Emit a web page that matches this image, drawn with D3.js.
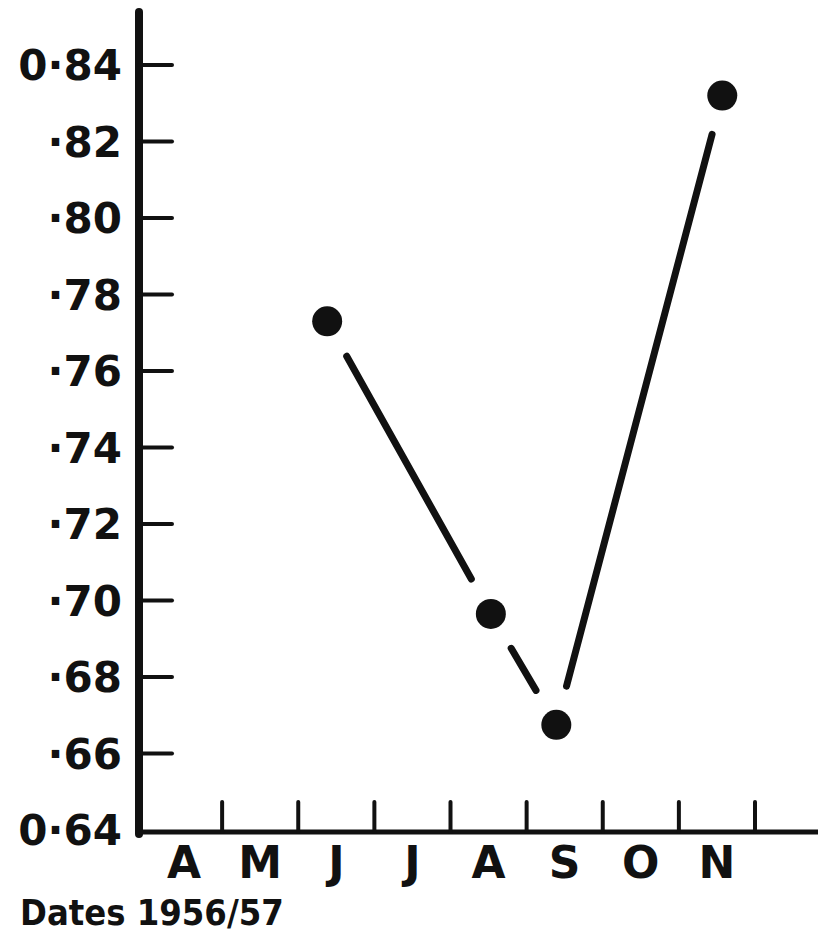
<!DOCTYPE html>
<html>
<head>
<meta charset="utf-8">
<script src="https://cdn.jsdelivr.net/npm/d3@7"></script>
<style>
  body { margin: 0; background: #fff; }
  svg { display: block; }
  text { font-family: "DejaVu Sans", sans-serif; font-weight: bold; fill: #111; }
  .title { font-family: "DejaVu Sans Condensed", "DejaVu Sans", sans-serif; }
</style>
</head>
<body>
<div id="chart-area"></div>
<script>
const months = ["A", "M", "J", "J", "A", "S", "O", "N"];
const yTicks = [0.84, 0.82, 0.80, 0.78, 0.76, 0.74, 0.72, 0.70, 0.68, 0.66, 0.64];
const yLabels = ["0·84", "·82", "·80", "·78", "·76", "·74", "·72", "·70", "·68", "·66", "0·64"];
// sample dates as months since start of April 1956
const sampleMonth = [2.38, 4.53, 5.39, 7.57];
const sampleValue = [0.773, 0.6965, 0.6675, 0.832];

const width = 818, height = 944;
const ink = "#111";

const svg = d3.select("#chart-area").append("svg")
	.attr("width", width)
	.attr("height", height);

const x = d3.scaleLinear()
	.domain([0, 8])
	.range([146, 755]);

const y = d3.scaleLinear()
	.domain([0.64, 0.84])
	.range([830, 65]);

const axisX = 139, baseY = 832;

// y axis
svg.append("line")
	.attr("x1", axisX).attr("x2", axisX)
	.attr("y1", 12).attr("y2", baseY + 2)
	.attr("stroke", ink).attr("stroke-width", 8).attr("stroke-linecap", "round");

// x axis
svg.append("line")
	.attr("x1", axisX).attr("x2", width)
	.attr("y1", baseY).attr("y2", baseY)
	.attr("stroke", ink).attr("stroke-width", 5);

// y ticks
svg.selectAll(".ytick")
	.data(yTicks.slice(0, -1))
	.enter()
	.append("line")
	.attr("class", "ytick")
	.attr("x1", axisX).attr("x2", 172)
	.attr("y1", d => y(d)).attr("y2", d => y(d))
	.attr("stroke", ink).attr("stroke-width", 4).attr("stroke-linecap", "round");

svg.selectAll(".ylabel")
	.data(yTicks)
	.enter()
	.append("text")
	.attr("class", "ylabel")
	.attr("x", 122)
	.attr("y", d => y(d) + 15)
	.attr("text-anchor", "end")
	.attr("font-size", 42)
	.text((d, i) => yLabels[i]);

// x ticks at month boundaries
svg.selectAll(".xtick")
	.data(d3.range(1, months.length + 1))
	.enter()
	.append("line")
	.attr("class", "xtick")
	.attr("x1", d => x(d)).attr("x2", d => x(d))
	.attr("y1", baseY).attr("y2", 802)
	.attr("stroke", ink).attr("stroke-width", 4).attr("stroke-linecap", "round");

svg.selectAll(".xlabel")
	.data(months)
	.enter()
	.append("text")
	.attr("class", "xlabel")
	.attr("x", (d, i) => x(i + 0.5))
	.attr("y", 878)
	.attr("text-anchor", "middle")
	.attr("font-size", 44)
	.text(d => d);

svg.append("text")
	.attr("class", "title")
	.attr("x", 20)
	.attr("y", 925)
	.attr("font-size", 36)
	.text("Dates 1956/57");

// connecting segments, broken short of each point
const pts = sampleMonth.map((m, i) => [x(m), y(sampleValue[i])]);
const gap = 40;
d3.pairs(pts).forEach(([a, b]) => {
	const dx = b[0] - a[0], dy = b[1] - a[1];
	const len = Math.hypot(dx, dy);
	const ux = dx / len, uy = dy / len;
	svg.append("line")
		.attr("x1", a[0] + ux * gap).attr("y1", a[1] + uy * gap)
		.attr("x2", b[0] - ux * gap).attr("y2", b[1] - uy * gap)
		.attr("stroke", ink).attr("stroke-width", 7).attr("stroke-linecap", "round");
});

svg.selectAll(".dot")
	.data(pts)
	.enter()
	.append("circle")
	.attr("class", "dot")
	.attr("cx", d => d[0])
	.attr("cy", d => d[1])
	.attr("r", 15)
	.attr("fill", ink);
</script>
</body>
</html>
